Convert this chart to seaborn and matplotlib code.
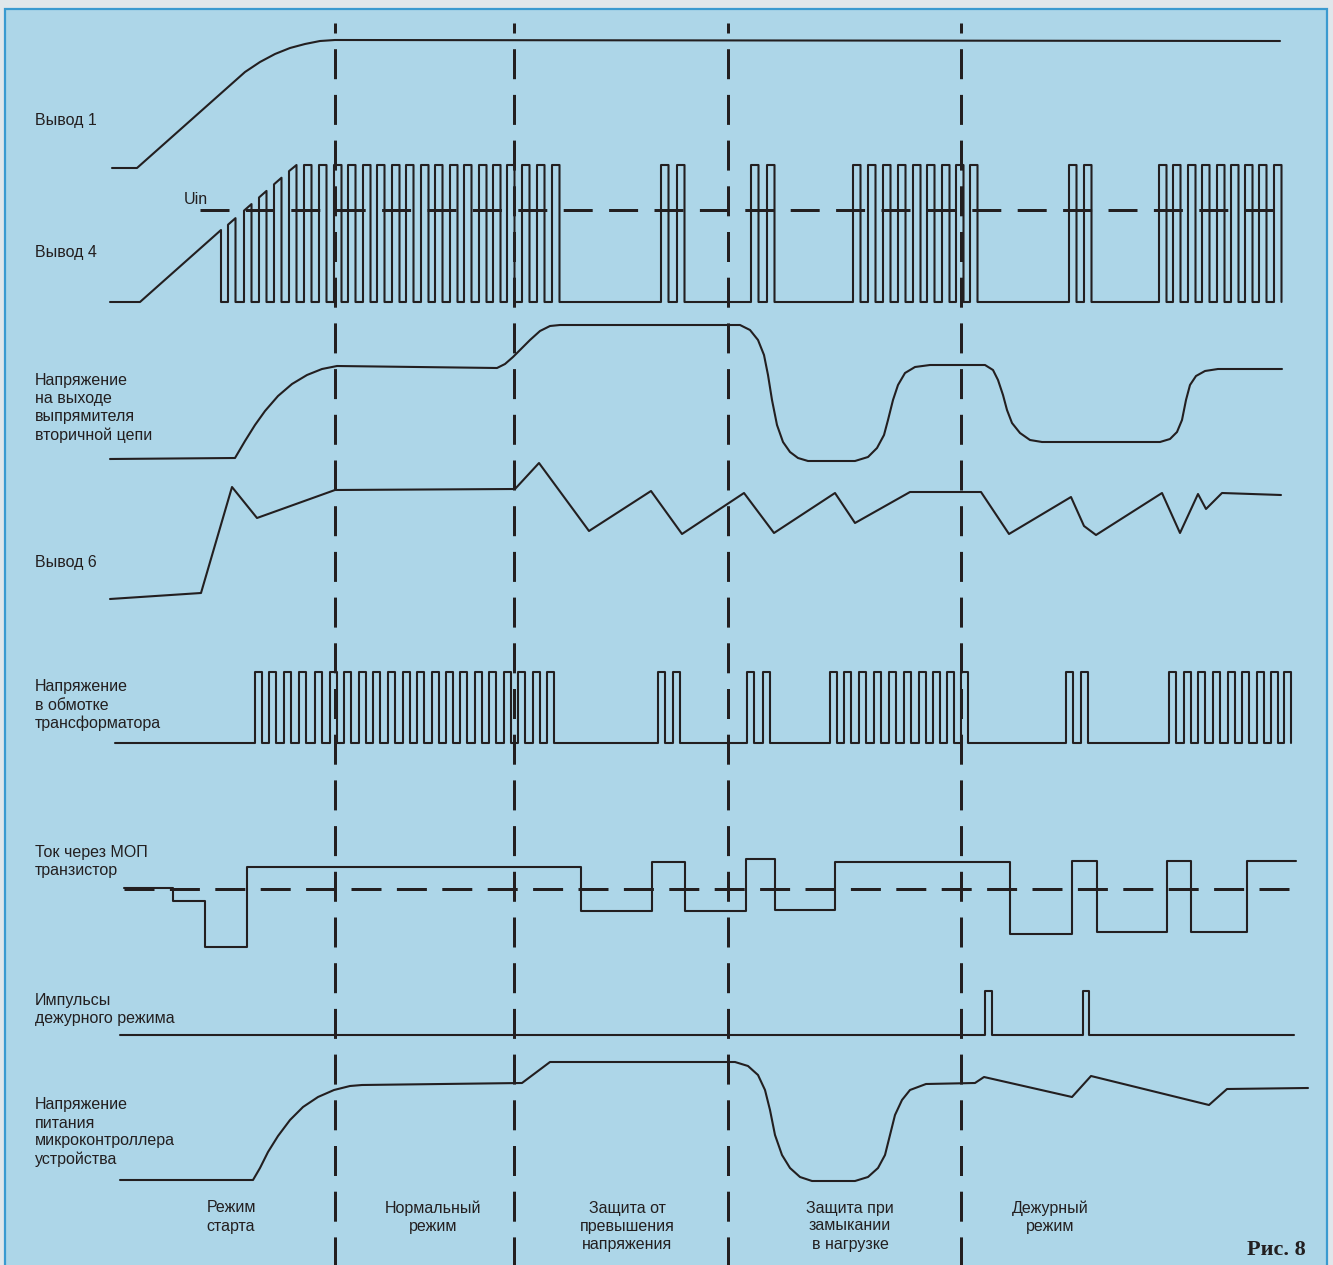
import numpy as np
import matplotlib
matplotlib.use("Agg")
import matplotlib.pyplot as plt
from matplotlib.patches import Rectangle
import seaborn as sns

sns.set_theme(style="white")
plt.rcParams["font.family"] = ["Liberation Sans", "DejaVu Sans"]
plt.rcParams["lines.scale_dashes"] = False

INK = "#231F20"
PANEL = "#ADD6E8"
OUTER = "#E0E7EB"
FRAME = "#3A9AD0"

# ---------------- signal data (time axis, level axis: larger = lower on sheet) ----
# Вывод 1
pin1_t = [112, 137, 245, 260, 275, 290, 305, 320, 335, 1280]
pin1_v = [168, 168, 72, 62, 54, 48, 44, 41, 40, 41]

# Вывод 4: lead-in ramp, then PWM bursts
pin4_lead_t = [110, 140, 221]
pin4_lead_v = [302, 302, 230]
pin4_env_t = [140, 296]          # start-up envelope of the pulse tops
pin4_env_v = [302, 165]
pin4_low, pin4_high = 302, 165
pin4_rises = [228, 244, 259, 274, 289, 304, 319, 334, 348, 363, 377, 392, 406,
              421, 435, 450, 464, 479, 493, 507, 522, 537, 552,
              661, 677,
              751, 767,
              853, 868, 883, 898, 913, 927, 942, 956, 970,
              1069, 1084,
              1159, 1173, 1188, 1202, 1217, 1231, 1245, 1259, 1274]
pin4_width = 7.5
uin_level = 210
uin_span = [200, 1273]

# Напряжение на выходе выпрямителя вторичной цепи
rect_t = [110, 235, 245, 255, 265, 278, 292, 307, 322, 337, 497, 505, 513, 520, 530,
          540, 550, 560, 740, 750, 758, 764, 768, 772, 777, 783, 790, 798, 808,
          855, 868, 877, 884, 888, 893, 898, 905, 915, 930, 985, 993, 998, 1003,
          1007, 1012, 1020, 1030, 1042, 1160, 1170, 1177, 1182, 1186, 1190, 1196,
          1205, 1218, 1282]
rect_v = [459, 458, 441, 425, 411, 396, 384, 375, 369, 366, 368, 364, 357, 350, 340,
          331, 326, 325, 325, 330, 340, 355, 375, 400, 425, 442, 452, 458, 461,
          461, 457, 448, 435, 420, 400, 385, 373, 367, 365, 365, 370, 380, 395,
          410, 423, 433, 440, 442, 442, 439, 432, 420, 400, 385, 376,
          371, 369, 369]

# Вывод 6
pin6_t = [110, 201, 232, 257, 335, 515, 539, 589, 651, 682, 744, 774, 835, 855,
          910, 981, 1009, 1071, 1084, 1096, 1162, 1180, 1198, 1206, 1222, 1281]
pin6_v = [599, 593, 487, 518, 490, 489, 463, 531, 491, 534, 493, 533, 493, 523,
          492, 492, 534, 497, 526, 535, 493, 533, 494, 509, 493, 495]

# Напряжение в обмотке трансформатора
tr_span = [115, 1291]
tr_low, tr_high = 743, 672
tr_rises = [255, 269, 284, 299, 315, 330, 344, 359, 373, 388, 403, 417, 432, 446,
            460, 475, 489, 504, 518, 533, 547,
            658, 673,
            747, 763,
            830, 844, 859, 874, 889, 904, 919, 933, 947, 961,
            1066, 1081,
            1169, 1184, 1198, 1213, 1228, 1242, 1257, 1271, 1284]
tr_width = 7

# Ток через МОП транзистор (step levels)
mos_edges = [124, 173, 205, 247, 581, 652, 685, 746, 775, 835, 1010, 1072, 1097,
             1167, 1191, 1247, 1296]
mos_levels = [888, 901, 947, 867, 911, 862, 911, 859, 910, 862, 934, 861, 932,
              861, 932, 861, 861]
mos_ref_level = 889
mos_ref_span = [124, 1290]

# Импульсы дежурного режима
stby_span = [120, 1294]
stby_low, stby_high = 1035, 991
stby_pulses = [(985, 992), (1083, 1089)]

# Напряжение питания микроконтроллера устройства
mcu_t = [120, 253, 260, 268, 278, 290, 303, 318, 334, 350, 362, 522, 550, 735, 748,
         758, 765, 770, 775, 782, 790, 800, 812, 855, 868, 878, 885, 890, 895, 902,
         910, 926, 975, 984, 1072, 1091, 1209, 1227, 1308]
mcu_v = [1180, 1180, 1168, 1152, 1136, 1120, 1107, 1097, 1090, 1086, 1085, 1083,
         1062, 1062, 1066, 1075, 1090, 1110, 1135, 1155, 1168, 1177, 1181, 1181,
         1177, 1168, 1155, 1135, 1115, 1100, 1090, 1084, 1083, 1077, 1097, 1076,
         1105, 1089, 1088]

# Mode boundaries
mode_bounds = [335, 514, 728, 961]

# ---------------- texts ----------------
row_labels = [
    (["Вывод 1"], 120),
    (["Вывод 4"], 253),
    (["Напряжение", "на выходе", "выпрямителя", "вторичной цепи"], 381),
    (["Вывод 6"], 562),
    (["Напряжение", "в обмотке", "трансформатора"], 687),
    (["Ток через МОП", "транзистор"], 852),
    (["Импульсы", "дежурного режима"], 1001),
    (["Напряжение", "питания", "микроконтроллера", "устройства"], 1105),
]
mode_labels = [
    (["Режим", "старта"], 231),
    (["Нормальный", "режим"], 433),
    (["Защита от", "превышения", "напряжения"], 627),
    (["Защита при", "замыкании", "в нагрузке"], 850),
    (["Дежурный", "режим"], 1050),
]


def pulse_path(rises, width, low, high, env_t=None, env_v=None):
    xs, ys = [], []
    for r in rises:
        f = r + width
        if env_t is not None:
            top_r = max(high, np.interp(r, env_t, env_v))
            top_f = max(high, np.interp(f, env_t, env_v))
        else:
            top_r = top_f = high
        xs += [r, r, f, f]
        ys += [low, top_r, top_f, low]
    return xs, ys


def trace(ax, x, y, lw=1.5, ls="-", **kw):
    sns.lineplot(x=np.asarray(x, float), y=np.asarray(y, float), ax=ax,
                 sort=False, estimator=None, color=INK, linewidth=lw,
                 linestyle=ls, **kw)


def px(v):
    return v * 0.72


fig = plt.figure(figsize=(13.33, 12.65), dpi=100, facecolor=OUTER)
ax = fig.add_axes([0, 0, 1, 1])
ax.set_facecolor(OUTER)
ax.add_patch(Rectangle((5, 9), 1322, 1300, facecolor=PANEL, edgecolor=FRAME,
                       linewidth=1.6, zorder=0))

# Вывод 1
trace(ax, pin1_t, pin1_v)

# Вывод 4
px4, py4 = pulse_path(pin4_rises, pin4_width, pin4_low, pin4_high,
                      pin4_env_t, pin4_env_v)
x4 = pin4_lead_t + [pin4_lead_t[-1]] + px4
y4 = pin4_lead_v + [pin4_low] + py4
trace(ax, x4, y4)
dash_h = (0, (px(29), px(16.4)))
trace(ax, uin_span, [uin_level, uin_level], lw=px(3), ls=dash_h)

# Rectifier output
trace(ax, rect_t, rect_v)

# Вывод 6
trace(ax, pin6_t, pin6_v)

# Transformer winding
pxt, pyt = pulse_path(tr_rises, tr_width, tr_low, tr_high)
trace(ax, [tr_span[0]] + pxt, [tr_low] + pyt)

# MOSFET current
trace(ax, mos_ref_span, [mos_ref_level] * 2, lw=px(3),
      ls=(0, (px(30), px(15.4))))
trace(ax, mos_edges, mos_levels, drawstyle="steps-post")

# Standby pulses
sx, sy = [stby_span[0]], [stby_low]
for a, b in stby_pulses:
    sx += [a, a, b, b]
    sy += [stby_low, stby_high, stby_high, stby_low]
sx.append(stby_span[1]); sy.append(stby_low)
trace(ax, sx, sy)

# MCU supply
trace(ax, mcu_t, mcu_v)

# Mode boundaries
for xb in mode_bounds:
    trace(ax, [xb, xb], [22.7, 1265], lw=px(3),
          ls=(px(20), (px(30), px(15.7))))

# Labels
fs = 11.5
for lines, y0 in row_labels:
    for i, s in enumerate(lines):
        ax.text(35, y0 + 18 * i, s, fontsize=fs, color=INK, ha="left", va="center")
for lines, xc in mode_labels:
    for i, s in enumerate(lines):
        ax.text(xc, 1208 + 18 * i, s, fontsize=fs, color=INK, ha="center", va="center")
ax.text(184, 200, "Uin", fontsize=fs, color=INK, ha="left", va="center")
ax.text(1306, 1250, "Рис. 8", fontsize=16, color=INK, ha="right", va="center",
        family=["Liberation Serif", "DejaVu Serif"], fontweight="bold")

ax.set_xlim(0, 1333)
ax.set_ylim(1265, 0)
ax.axis("off")
if ax.get_legend() is not None:
    ax.get_legend().remove()

fig.savefig("out.png", dpi=100, facecolor=OUTER)
